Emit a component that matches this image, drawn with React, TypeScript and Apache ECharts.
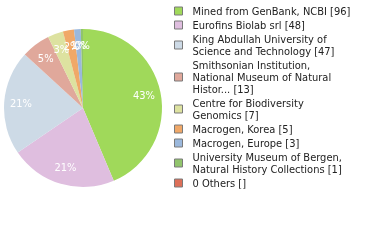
import React, { useEffect, useRef } from "react";
import * as echarts from "echarts";

const names = [
  "Mined from GenBank, NCBI",
  "Eurofins Biolab srl",
  "King Abdullah University of Science and Technology",
  "Smithsonian Institution, National Museum of Natural Histor...",
  "Centre for Biodiversity Genomics",
  "Macrogen, Korea",
  "Macrogen, Europe",
  "University Museum of Bergen, Natural History Collections",
  "0 Others",
];
const legendLabels = [
  "Mined from GenBank, NCBI [96]",
  "Eurofins Biolab srl [48]",
  "King Abdullah University of\nScience and Technology [47]",
  "Smithsonian Institution,\nNational Museum of Natural\nHistor... [13]",
  "Centre for Biodiversity\nGenomics [7]",
  "Macrogen, Korea [5]",
  "Macrogen, Europe [3]",
  "University Museum of Bergen,\nNatural History Collections [1]",
  "0 Others []",
];
const values = [96, 48, 47, 13, 7, 5, 3, 1, 0];
const colors = [
  "#a0d95a",
  "#dfbedf",
  "#cddae6",
  "#e0a89b",
  "#dde2a0",
  "#f0a868",
  "#9bb8dc",
  "#91c46c",
  "#dd6f58",
];

export default function App() {
  const ref = useRef<HTMLDivElement>(null);
  useEffect(() => {
    if (!ref.current) return;
    const chart = echarts.init(ref.current, undefined, { renderer: "svg" });
    const total = values.reduce((a, b) => a + b, 0);
    const data = names.map((n, i) => ({
      name: n,
      value: values[i],
      itemStyle: { color: colors[i] },
    }));
    const font = "DejaVu Sans Condensed";
    chart.setOption({
      animation: false,
      legend: {
        orient: "vertical",
        left: 169,
        top: 0,
        padding: 5,
        itemWidth: 8,
        itemHeight: 8,
        itemGap: 2,
        icon: "rect",
        selectedMode: false,
        itemStyle: { borderColor: "#7a7a7a", borderWidth: 1 },
        data: names,
        formatter: (n: string) => legendLabels[names.indexOf(n)],
        textStyle: {
          fontFamily: font,
          fontSize: 11,
          lineHeight: 12,
          color: "#222",
          padding: [0, 0, 0, 5],
        },
      },
      series: [
        {
          type: "pie",
          center: [83, 108],
          radius: 79,
          startAngle: 90,
          clockwise: true,
          label: { show: false },
          labelLine: { show: false },
          silent: true,
          data,
        },
        {
          type: "pie",
          center: [83, 108],
          radius: [39.5, 79],
          startAngle: 90,
          clockwise: true,
          silent: true,
          itemStyle: { color: "rgba(0,0,0,0)" },
          labelLine: { show: false },
          avoidLabelOverlap: false,
          labelLayout: { hideOverlap: false },
          label: {
            show: true,
            position: "inside",
            color: "#fff",
            fontFamily: font,
            fontSize: 11,
            formatter: (p: any) =>
              p.value > 0 ? Math.floor((p.value / total) * 100) + "%" : "",
          },
          data: names.map((n, i) => ({
            name: n,
            value: values[i],
            itemStyle: { color: "rgba(0,0,0,0)" },
          })),
        },
      ],
    });
    return () => chart.dispose();
  }, []);
  return (
    <div
      ref={ref}
      style={{ position: "fixed", left: 0, top: 0, width: 380, height: 240 }}
    />
  );
}
